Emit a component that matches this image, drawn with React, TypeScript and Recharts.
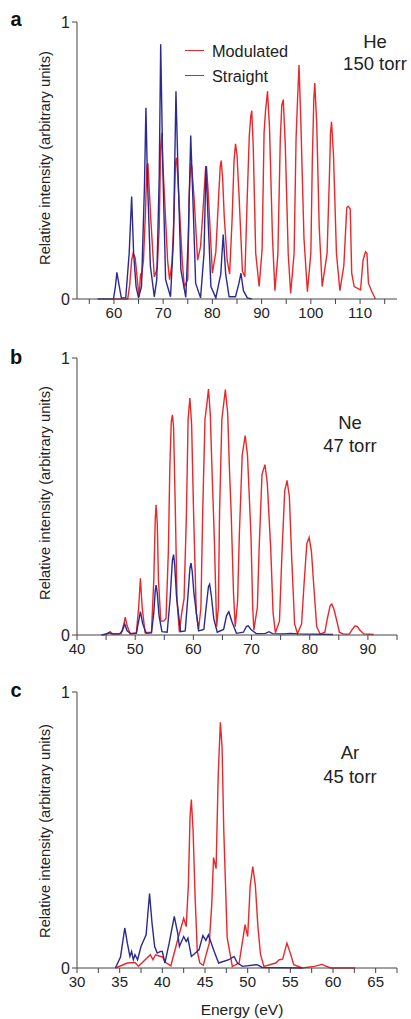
import React from 'react';
import { LineChart, Line, XAxis, YAxis } from 'recharts';

type Pt = [number, number];

// energy (eV), relative intensity
const heModulated: Pt[] = [
  [60, 0], [62.8, 0], [63.2, 0.05], [63.6, 0.14], [63.9, 0.165], [64.3, 0.15], [64.5, 0.117], [64.8, 0.06],
  [65.1, 0.008], [65.4, 0.087], [65.6, 0.08], [66.0, 0.14], [66.4, 0.31], [66.7, 0.48], [66.9, 0.49], [67.1, 0.42],
  [67.5, 0.285], [68.2, 0.08], [68.8, 0.11], [69.2, 0.26], [69.5, 0.55], [69.7, 0.6], [69.9, 0.5], [70.3, 0.36],
  [70.9, 0.14], [71.3, 0.07], [71.8, 0.13], [72.2, 0.3], [72.5, 0.49], [72.7, 0.51], [72.9, 0.46], [73.3, 0.33],
  [73.9, 0.13], [74.3, 0.045], [75.0, 0.07], [75.3, 0.38], [75.6, 0.49], [75.8, 0.48], [76.3, 0.36], [77.0, 0.14],
  [77.6, 0.19], [78.2, 0.35], [78.6, 0.47], [78.8, 0.48], [79.1, 0.4], [79.4, 0.3], [80.0, 0.093], [80.7, 0.17],
  [81.3, 0.38], [81.6, 0.48], [81.8, 0.5], [82.1, 0.43], [82.4, 0.3], [83.0, 0.14], [83.5, 0.09], [84.0, 0.285],
  [84.4, 0.5], [84.7, 0.56], [85.0, 0.52], [85.4, 0.38], [86.1, 0.1], [86.6, 0.08], [87.1, 0.38], [87.5, 0.59],
  [87.8, 0.66], [88.0, 0.68], [88.3, 0.55], [88.8, 0.165], [89.5, 0.045], [90.1, 0.18], [90.5, 0.6], [90.8, 0.68],
  [91.2, 0.75], [91.6, 0.62], [92.2, 0.225], [92.7, 0.03], [93.3, 0.16], [93.8, 0.58], [94.1, 0.7], [94.4, 0.72],
  [94.8, 0.56], [95.4, 0.165], [95.9, 0.02], [96.6, 0.165], [97.0, 0.58], [97.3, 0.72], [97.6, 0.845], [98.0, 0.62],
  [98.6, 0.22], [99.3, 0.026], [100.0, 0.165], [100.3, 0.5], [100.6, 0.72], [100.8, 0.78], [101.2, 0.63],
  [101.7, 0.26], [102.3, 0.045], [103.3, 0.165], [103.8, 0.46], [104.0, 0.6], [104.2, 0.64], [104.6, 0.52],
  [105.2, 0.165], [105.9, 0.03], [106.7, 0.12], [107.3, 0.33], [107.6, 0.335], [108.0, 0.325], [108.3, 0.093],
  [108.8, 0.045], [110.1, 0.033], [110.6, 0.14], [111.1, 0.17], [111.4, 0.165], [111.7, 0.057], [112.4, 0.026],
  [112.9, 0.008], [113.1, 0],
];

const heStraight: Pt[] = [
  [56.7, 0], [59.9, 0], [60.3, 0.045], [60.6, 0.096], [61.1, 0.045], [61.5, 0.004], [62.4, 0.004], [63.1, 0.165],
  [63.6, 0.37], [64.0, 0.165], [64.5, 0.045], [65.0, 0.004], [65.6, 0.045], [66.2, 0.405], [66.5, 0.69], [66.8, 0.44],
  [67.4, 0.12], [68.2, 0.008], [68.7, 0.07], [69.2, 0.44], [69.5, 0.92], [69.9, 0.5], [70.5, 0.07], [71.5, 0.008],
  [72.1, 0.22], [72.6, 0.75], [73.0, 0.47], [73.6, 0.105], [74.6, 0.006], [75.1, 0.22], [75.6, 0.59], [76.1, 0.33],
  [76.6, 0.057], [77.6, 0.004], [78.3, 0.165], [78.7, 0.48], [79.1, 0.3], [79.7, 0.045], [80.7, 0.004], [81.7, 0.09],
  [82.2, 0.233], [82.7, 0.09], [83.4, 0.008], [84.7, 0.008], [85.4, 0.057], [85.8, 0.093], [86.3, 0.03], [87.1, 0.004],
  [88, 0],
];

const neModulated: Pt[] = [
  [44.5, 0], [45.2, 0.004], [45.7, 0.012], [46.2, 0.003], [47.6, 0.005], [48.0, 0.035], [48.3, 0.064], [48.6, 0.035],
  [49.1, 0.005], [50.2, 0.008], [50.6, 0.1], [50.9, 0.205], [51.2, 0.1], [51.7, 0.008], [52.8, 0.01], [53.2, 0.2],
  [53.45, 0.42], [53.6, 0.47], [53.8, 0.4], [54.0, 0.2], [54.4, 0.05], [54.9, 0.05], [55.3, 0.06], [55.7, 0.3],
  [55.95, 0.6], [56.2, 0.77], [56.4, 0.795], [56.6, 0.75], [56.9, 0.45], [57.2, 0.12], [57.6, 0.01], [58.0, 0.08],
  [58.4, 0.13], [58.8, 0.43], [59.1, 0.78], [59.4, 0.855], [59.7, 0.76], [60.05, 0.43], [60.5, 0.08], [60.9, 0.02],
  [61.3, 0.1], [61.6, 0.44], [62.0, 0.78], [62.3, 0.83], [62.6, 0.888], [62.9, 0.8], [63.2, 0.6], [63.6, 0.35],
  [64.0, 0.03], [64.3, 0.1], [64.5, 0.44], [64.9, 0.78], [65.5, 0.886], [65.9, 0.8], [66.2, 0.6], [66.5, 0.44],
  [66.9, 0.15], [67.2, 0.03], [67.6, 0.12], [67.9, 0.36], [68.4, 0.65], [68.9, 0.72], [69.3, 0.65], [69.9, 0.36],
  [70.2, 0.1], [70.4, 0.018], [71.0, 0.1], [71.3, 0.31], [71.8, 0.58], [72.3, 0.615], [72.7, 0.55], [73.3, 0.31],
  [73.7, 0.08], [74.1, 0.008], [74.8, 0.05], [75.2, 0.28], [75.7, 0.52], [76.1, 0.558], [76.5, 0.5], [76.9, 0.28],
  [77.4, 0.04], [77.9, 0.005], [78.6, 0.04], [79.0, 0.176], [79.5, 0.33], [79.9, 0.352], [80.3, 0.3], [80.7, 0.176],
  [81.2, 0.03], [81.8, 0.003], [82.6, 0.01], [83.0, 0.056], [83.5, 0.105], [83.8, 0.112], [84.2, 0.09], [84.6, 0.056],
  [85.1, 0.01], [85.8, 0.003], [86.8, 0.003], [87.3, 0.02], [87.8, 0.033], [88.2, 0.03], [88.6, 0.018], [89.3, 0.004],
  [91.0, 0.002],
];

const neStraight: Pt[] = [
  [44.2, 0], [45.0, 0.004], [45.5, 0.008], [46.0, 0.004], [47.3, 0.004], [47.8, 0.015], [48.2, 0.04], [48.6, 0.015],
  [49.3, 0.004], [50.2, 0.006], [50.6, 0.05], [50.9, 0.084], [51.3, 0.04], [51.9, 0.006], [52.8, 0.008], [53.2, 0.08],
  [53.45, 0.16], [53.6, 0.18], [53.8, 0.15], [54.1, 0.07], [54.6, 0.012], [55.5, 0.01], [56.0, 0.13], [56.4, 0.27],
  [56.6, 0.29], [56.8, 0.25], [57.1, 0.14], [57.8, 0.012], [58.6, 0.015], [59.1, 0.15], [59.4, 0.24], [59.6, 0.26],
  [59.8, 0.23], [60.1, 0.15], [60.9, 0.015], [61.8, 0.02], [62.3, 0.12], [62.6, 0.175], [62.8, 0.183], [63.1, 0.14],
  [63.5, 0.06], [64.1, 0.01], [65.2, 0.02], [65.7, 0.07], [66.1, 0.084], [66.6, 0.05], [67.4, 0.006], [68.6, 0.01],
  [69.1, 0.03], [69.4, 0.034], [69.9, 0.02], [70.8, 0.005], [72.4, 0.006], [73.0, 0.012], [73.6, 0.005], [75.5, 0.004],
  [76.7, 0.006], [78.0, 0.004], [84.0, 0.002],
];

const arModulated: Pt[] = [
  [34.5, 0], [35.9, 0.018], [36.8, 0.02], [37.2, 0.006], [38.6, 0.048], [38.9, 0.03], [39.2, 0.048], [40.0, 0.04],
  [40.4, 0.02], [41.0, 0.008], [41.9, 0.114], [42.5, 0.18], [42.8, 0.15], [43.05, 0.3], [43.25, 0.55], [43.4, 0.61],
  [43.6, 0.5], [43.85, 0.25], [44.1, 0.06], [44.4, 0.018], [44.8, 0.01], [45.5, 0.09], [45.8, 0.235], [46.0, 0.4],
  [46.3, 0.36], [46.55, 0.7], [46.8, 0.89], [47.0, 0.8], [47.2, 0.5], [47.6, 0.11], [48.2, 0.006], [49.0, 0.018],
  [49.7, 0.157], [50.0, 0.114], [50.3, 0.3], [50.6, 0.367], [50.9, 0.3], [51.2, 0.15], [51.5, 0.05], [51.9, 0.006],
  [53.3, 0.018], [53.7, 0.03], [54.1, 0.032], [54.6, 0.09], [55.0, 0.054], [55.4, 0.012], [56.4, 0], [57.8, 0.006],
  [58.7, 0.013], [59.7, 0], [62.6, 0],
];

const arStraight: Pt[] = [
  [34.5, 0], [35.1, 0.04], [35.6, 0.145], [35.9, 0.09], [36.2, 0.042], [36.4, 0.06], [36.6, 0.03], [36.8, 0.048],
  [37.1, 0.03], [37.5, 0.078], [38.1, 0.12], [38.5, 0.27], [38.8, 0.16], [39.1, 0.078], [39.4, 0.054], [39.8, 0.06],
  [40.0, 0.06], [40.3, 0.018], [40.8, 0.09], [41.4, 0.187], [41.8, 0.126], [42.0, 0.078], [42.5, 0.114], [42.8, 0.096],
  [43.0, 0.108], [43.4, 0.042], [44.3, 0.066], [44.75, 0.118], [45.1, 0.1], [45.4, 0.12], [46.0, 0.066], [46.6, 0.018],
  [47.8, 0.03], [48.4, 0.042], [48.8, 0.018], [49.4, 0.006], [51.1, 0.012], [51.7, 0.002], [56.4, 0],
];

const heTicks = [55, 60, 65, 70, 75, 80, 85, 90, 95, 100, 105, 110, 115];
const neTicks = [40, 45, 50, 55, 60, 65, 70, 75, 80, 85, 90, 95];
const arTicks = [30, 32.5, 35, 37.5, 40, 42.5, 45, 47.5, 50, 52.5, 55, 57.5, 60, 62.5, 65, 67.5];

const RED = '#e8282b';
const BLUE = '#2c2a8e';
const AXIS = '#444';
const FONT = '"Liberation Sans", Arial, Helvetica, sans-serif';

const toRows = (pts: Pt[]) => pts.map(([x, y]) => ({ x, y }));

type PanelProps = {
  top: number;
  height: number;
  domain: [number, number];
  ticks: number[];
  labelEvery: number;
  modulated: Pt[];
  straight: Pt[];
};

function Panel({ top, height, domain, ticks, labelEvery, modulated, straight }: PanelProps) {
  const tickStyle = { fill: '#222', fontSize: 15, fontFamily: FONT };
  return (
    <div style={{ position: 'absolute', left: 0, top }}>
      <LineChart width={411} height={height} margin={{ top: 22, right: 14, bottom: 1, left: 47 }}>
        <XAxis
          type="number"
          dataKey="x"
          domain={domain}
          ticks={ticks}
          interval={0}
          allowDataOverflow
          height={30}
          tickSize={5}
          tickMargin={3}
          stroke={AXIS}
          tick={tickStyle}
          tickFormatter={(v: number) => (v % labelEvery === 0 ? String(v) : '')}
        />
        <YAxis
          type="number"
          domain={[0, 1]}
          ticks={[0, 1]}
          interval={0}
          width={30}
          tickSize={5}
          stroke={AXIS}
          tick={{ ...tickStyle, fontSize: 16 }}
        />
        <Line data={toRows(modulated)} dataKey="y" type="linear" stroke={RED} strokeWidth={1.4} dot={false} isAnimationActive={false} />
        <Line data={toRows(straight)} dataKey="y" type="linear" stroke={BLUE} strokeWidth={1.4} dot={false} isAnimationActive={false} />
      </LineChart>
    </div>
  );
}

const txt = (left: number, top: number, text: string, extra: React.CSSProperties = {}) => (
  <div
    style={{
      position: 'absolute',
      left,
      top,
      transform: 'translate(-50%, -50%)',
      whiteSpace: 'nowrap',
      fontFamily: FONT,
      fontSize: 15,
      color: '#222',
      lineHeight: 1,
      ...extra,
    }}
  >
    {text}
  </div>
);

const yTitle = (cy: number) =>
  txt(45, cy, 'Relative intensity (arbitrary units)', {
    fontSize: 14.7,
    transform: 'translate(-50%, -50%) rotate(-90deg)',
  });

const legendText: React.CSSProperties = {
  position: 'absolute',
  left: 212,
  transform: 'translateY(-50%)',
  fontFamily: FONT,
  fontSize: 16.3,
  lineHeight: 1,
  color: '#222',
  whiteSpace: 'nowrap',
};

export default function App() {
  return (
    <div style={{ position: 'absolute', left: 0, top: 0, width: 411, height: 1019, background: '#fff' }}>
      <Panel top={0} height={330} domain={[52.5, 117.5]} ticks={heTicks} labelEvery={10} modulated={heModulated} straight={heStraight} />
      <Panel top={336} height={330} domain={[40, 95]} ticks={neTicks} labelEvery={10} modulated={neModulated} straight={neStraight} />
      <Panel top={670} height={329} domain={[30, 67.5]} ticks={arTicks} labelEvery={5} modulated={arModulated} straight={arStraight} />

      {txt(16, 19, 'a', { fontWeight: 'bold', fontSize: 20, color: '#111' })}
      {txt(16, 357, 'b', { fontWeight: 'bold', fontSize: 20, color: '#111' })}
      {txt(16, 690, 'c', { fontWeight: 'bold', fontSize: 20, color: '#111' })}

      {yTitle(158)}
      {yTitle(493)}
      {yTitle(831)}

      <div style={{ position: 'absolute', left: 185, top: 50, width: 19, height: 1.3, background: RED }} />
      <div style={{ position: 'absolute', left: 185, top: 75, width: 19, height: 1.3, background: '#2d62b3' }} />
      <div style={{ ...legendText, top: 51 }}>Modulated</div>
      <div style={{ ...legendText, top: 76 }}>Straight</div>

      {txt(375, 42, 'He', { fontSize: 18.5 })}
      {txt(375, 64, '150 torr', { fontSize: 18.5 })}
      {txt(350, 423, 'Ne', { fontSize: 18.5 })}
      {txt(350, 446, '47 torr', { fontSize: 18.5 })}
      {txt(350, 753, 'Ar', { fontSize: 18.5 })}
      {txt(350, 777, '45 torr', { fontSize: 18.5 })}

      {txt(242, 1010, 'Energy (eV)', { fontSize: 15.5 })}
    </div>
  );
}
